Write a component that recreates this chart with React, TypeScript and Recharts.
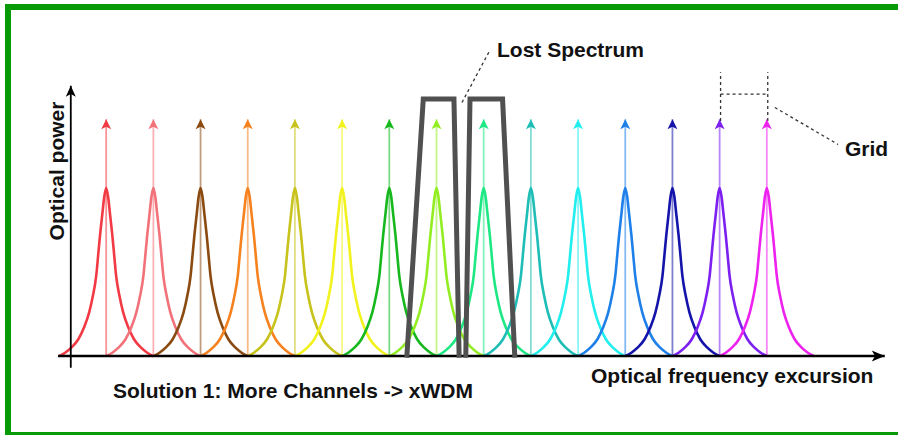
import React from 'react';
import { ComposedChart, Line, XAxis, YAxis } from 'recharts';

// channel centres on the frequency grid (grid units) and their colours
const channelCenters = [0, 1, 2, 3, 4, 5, 6, 7, 8, 9, 10, 11, 12, 13, 14];
const channelColors = [
  '#f23a44', '#f2727a', '#8a4a10', '#f5821e', '#c8c21c', '#f2f21e', '#16b81e', '#92ee22',
  '#1ee884', '#1ebdb6', '#22eeee', '#1e80e8', '#1414aa', '#7c20f0', '#ee22ee',
];

// one side of a channel's spectral line (offset in grid units, relative power)
const profileOffsets = [0, 0.04, 0.08, 0.13, 0.17, 0.21, 0.28, 0.36, 0.47, 0.59, 0.74, 0.87, 1.0];
const profileHeights = [1, 0.95, 0.85, 0.72, 0.6, 0.48, 0.36, 0.26, 0.17, 0.1, 0.05, 0.02, 0];

// carrier arrow height (relative power)
const carrierTop = 1.41;

// the two filter passbands covering the lost spectrum
const filterA = [
  { x: 6.37, y: -0.01 }, { x: 6.72, y: 1.53 }, { x: 7.37, y: 1.53 }, { x: 7.48, y: -0.01 },
];
const filterB = [
  { x: 7.62, y: -0.01 }, { x: 7.71, y: 1.53 }, { x: 8.4, y: 1.53 }, { x: 8.66, y: -0.01 },
];

// axes
const yAxisLine = [{ x: -0.75, y: -0.07 }, { x: -0.75, y: 1.61 }];
const xAxisLine = [{ x: -1.02, y: 0 }, { x: 16.5, y: 0 }];

// annotations
const lostPointer = [{ x: 7.54, y: 1.51 }, { x: 8.13, y: 1.82 }];
const gridLeft = [{ x: 13.02, y: 1.4 }, { x: 13.02, y: 1.69 }];
const gridRight = [{ x: 14.02, y: 1.4 }, { x: 14.02, y: 1.69 }];
const gridSpan = [{ x: 13.02, y: 1.56 }, { x: 14.02, y: 1.56 }];
const gridPointer = [{ x: 14.17, y: 1.48 }, { x: 15.51, y: 1.26 }];

const W = 898;
const H = 435;
const xDomain = [-2.25, 16.78];
const yDomain = [-0.47, 2.12];

const curvePoints = (c: number) => {
  const left = profileOffsets.map((o, i) => ({ x: c - o, y: profileHeights[i] })).reverse();
  const right = profileOffsets.slice(1).map((o, i) => ({ x: c + o, y: profileHeights[i + 1] }));
  return [...left, ...right];
};

const upHead = (color: string, w: number, h: number) => (props: any) => {
  const { cx, cy, index } = props;
  if (index !== 1) return <g key={`n${index}`} />;
  return (
    <polygon
      key={`h${index}`}
      points={`${cx},${cy} ${cx - w / 2},${cy + h} ${cx},${cy + h * 0.75} ${cx + w / 2},${cy + h}`}
      fill={color}
    />
  );
};

const rightHead = (color: string, w: number, h: number) => (props: any) => {
  const { cx, cy, index } = props;
  if (index !== 1) return <g key={`n${index}`} />;
  return (
    <polygon
      key={`h${index}`}
      points={`${cx},${cy} ${cx - h},${cy - w / 2} ${cx - h * 0.75},${cy} ${cx - h},${cy + w / 2}`}
      fill={color}
    />
  );
};

const labelStyle: React.CSSProperties = {
  fontFamily: '"Liberation Sans", Arial, sans-serif',
  fontWeight: 'bold',
  fontSize: 21,
  fill: '#111',
};

export default function App() {
  return (
    <div style={{ position: 'absolute', left: 0, top: 0, width: W, height: H, overflow: 'hidden', background: '#fff' }}>
      <div
        style={{
          position: 'absolute', left: 5, top: 4, width: 920, height: 422,
          border: '6px solid #069a06',
        }}
      />
      <div style={{ position: 'absolute', left: 0, top: 0 }}>
        <ComposedChart width={W} height={H} margin={{ top: 0, right: 0, bottom: 0, left: 0 }}>
          <XAxis dataKey="x" type="number" domain={xDomain} allowDataOverflow hide />
          <YAxis dataKey="y" type="number" domain={yDomain} allowDataOverflow hide />

          {channelCenters.map((c, i) => (
            <Line
              key={`arrow${i}`}
              data={[{ x: c, y: 0 }, { x: c, y: carrierTop }]}
              dataKey="y"
              type="linear"
              stroke={channelColors[i]}
              strokeOpacity={0.55}
              strokeWidth={1.8}
              dot={upHead(channelColors[i], 10, 10)}
              activeDot={false}
              isAnimationActive={false}
              legendType="none"
            />
          ))}

          {channelCenters.map((c, i) => (
            <Line
              key={`curve${i}`}
              data={curvePoints(c)}
              dataKey="y"
              type="monotone"
              stroke={channelColors[i]}
              strokeWidth={2.6}
              dot={false}
              activeDot={false}
              isAnimationActive={false}
              legendType="none"
            />
          ))}

          <Line data={xAxisLine} dataKey="y" type="linear" stroke="#000" strokeWidth={2.6}
            dot={rightHead('#000', 11, 13)} activeDot={false} isAnimationActive={false} legendType="none" />
          <Line data={yAxisLine} dataKey="y" type="linear" stroke="#000" strokeWidth={1.8}
            dot={upHead('#000', 10, 11)} activeDot={false} isAnimationActive={false} legendType="none" />

          <Line data={filterA} dataKey="y" type="linear" stroke="#505050" strokeWidth={5}
            strokeLinejoin="miter" dot={false} activeDot={false} isAnimationActive={false} legendType="none" />
          <Line data={filterB} dataKey="y" type="linear" stroke="#505050" strokeWidth={5}
            strokeLinejoin="miter" dot={false} activeDot={false} isAnimationActive={false} legendType="none" />

          {[lostPointer, gridLeft, gridRight, gridSpan, gridPointer].map((d, i) => (
            <Line key={`note${i}`} data={d} dataKey="y" type="linear" stroke="#333" strokeWidth={1.3}
              strokeDasharray="3 3" dot={false} activeDot={false} isAnimationActive={false} legendType="none" />
          ))}
        </ComposedChart>
      </div>
      <svg width={W} height={H} style={{ position: 'absolute', left: 0, top: 0, pointerEvents: 'none' }}>
        <text style={labelStyle} transform="translate(64,171) rotate(-90)" textAnchor="middle">Optical power</text>
        <text style={labelStyle} x={497} y={57}>Lost Spectrum</text>
        <text style={labelStyle} x={845} y={156}>Grid</text>
        <text style={labelStyle} x={591} y={383}>Optical frequency excursion</text>
        <text style={labelStyle} x={113} y={398}>Solution 1: More Channels -&gt; xWDM</text>
      </svg>
    </div>
  );
}
